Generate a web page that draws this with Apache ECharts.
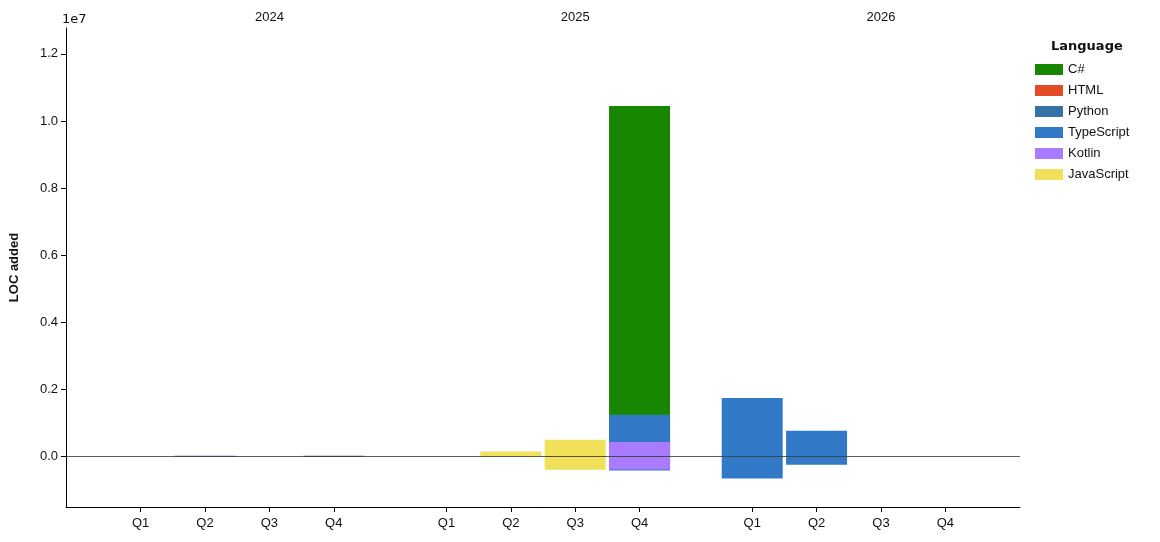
<!DOCTYPE html><html><head><meta charset="utf-8"><script src="https://cdn.jsdelivr.net/npm/echarts@6/dist/echarts.min.js"></script></head><body style="margin:0"><div id="c" style="width:1160px;height:542px"></div><script>
const years=['2024','2025','2026'];
const quarters=['Q1','Q2','Q3','Q4'];
const languages=['C#','HTML','Python','TypeScript','Kotlin','JavaScript'];
const colors=['#178600','#e34c26','#3572A5','#3178c6','#A97BFF','#f1e05a'];
const posCS=[0,0,0,30e3,0,0,0,10.45e6,0,0,0,0];
const negCS=[0,0,0,0,0,0,0,-120e3,0,0,0,0];
const posHTML=[0,0,0,0,0,0,0,0,0,0,0,0];
const negHTML=[0,0,0,0,0,0,0,0,0,0,0,0];
const posPy=[0,30e3,0,0,0,0,30e3,0,0,0,0,0];
const negPy=[0,0,0,0,0,0,0,0,0,0,0,0];
const posTS=[0,0,0,0,0,0,30e3,1.25e6,1.75e6,0.77e6,0,0];
const negTS=[0,0,0,0,0,0,0,-415e3,-650e3,-240e3,0,0];
const posKt=[0,0,0,0,0,0,10e3,0.44e6,0,0,0,0];
const negKt=[0,0,0,0,0,0,0,-385e3,0,0,0,0];
const posJS=[0,0,0,0,0,150e3,500e3,0,0,0,0,0];
const negJS=[0,0,0,0,0,0,-390e3,0,0,0,0,0];
const pos=[posCS,posHTML,posPy,posTS,posKt,posJS];
const neg=[negCS,negHTML,negPy,negTS,negKt,negJS];
const GROUP=4.75;
const xp=i=>(i%4)+Math.floor(i/4)*GROUP;
const idx=[...Array(12).keys()];
const qPos=idx.map(xp);
const yPos=years.map((_,g)=>2+g*GROUP);
const near=(arr,v)=>arr.findIndex(p=>Math.abs(p-v)<1e-3);
const series=[];
languages.forEach((l,k)=>{
 [pos[k],neg[k]].forEach(arr=>{
  series.push({name:l,type:'bar',stack:'s',barWidth:61,itemStyle:{color:colors[k]},
   data:idx.map(i=>[xp(i),arr[i]])});
 });
});
series[0].markLine={symbol:'none',silent:true,label:{show:false},lineStyle:{color:'#333',width:0.8,type:'solid'},data:[{yAxis:0}]};
const c=echarts.init(document.getElementById('c'));
c.setOption({animation:false,
grid:{left:61,right:140,top:28,bottom:35},
legend:{orient:'vertical',left:1030,top:58,itemWidth:28,itemHeight:11,itemGap:8,icon:'rect',data:languages,textStyle:{fontSize:13,color:'#111'}},
graphic:[{type:'text',left:1051,top:40,style:{text:'Language',font:'bold 13px DejaVu Sans',fill:'#111'}},
 {type:'text',left:62,top:13,style:{text:'1e7',font:'13px DejaVu Sans',fill:'#111'}}],
xAxis:[{type:'value',min:-1.16,max:13.66,axisLine:{show:true,onZero:false,lineStyle:{color:'#000'}},splitLine:{show:false},
 axisTick:{show:true,customValues:qPos,length:5,lineStyle:{color:'#000'}},
 axisLabel:{customValues:qPos,formatter:v=>quarters[near(qPos,v)%4],color:'#111',fontSize:13,margin:10}},
 {type:'value',position:'top',min:-1.16,max:13.66,axisLine:{show:false},splitLine:{show:false},axisTick:{show:false},
 axisLabel:{customValues:yPos,formatter:v=>years[near(yPos,v)],color:'#111',fontSize:13,margin:4}}],
yAxis:{type:'value',min:-1.5e6,max:12.77e6,name:'LOC added',nameLocation:'middle',nameGap:45,nameTextStyle:{fontWeight:'bold',fontSize:13,color:'#111'},
 axisLine:{show:true,onZero:false,lineStyle:{color:'#000'}},splitLine:{show:false},
 axisTick:{show:true,customValues:[0,2e6,4e6,6e6,8e6,10e6,12e6],lineStyle:{color:'#000'}},
 axisLabel:{customValues:[0,2e6,4e6,6e6,8e6,10e6,12e6],formatter:v=>(v/1e7).toFixed(1),color:'#111',fontSize:13}},
series});
</script></body></html>
